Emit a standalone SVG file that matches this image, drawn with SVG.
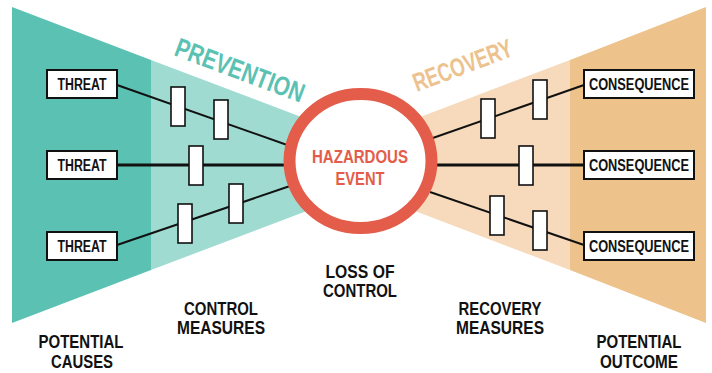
<svg xmlns="http://www.w3.org/2000/svg" width="712" height="373" viewBox="0 0 712 373">
<style>
text{font-family:"Liberation Sans Narrow","Liberation Sans",Arial,sans-serif;font-weight:bold}
.box{fill:#fff;stroke:#111;stroke-width:2}
.bar{fill:#fff;stroke:#111;stroke-width:1.6}
.lbl{font-size:16px;fill:#111;text-anchor:middle}
.cap{font-size:18px;fill:#111;text-anchor:middle}
.ln{stroke:#111;stroke-width:2;fill:none}
.lnh{stroke:#111;stroke-width:3;fill:none}
</style>
<rect width="712" height="373" fill="#fff"/>
<g id="background">
<polygon points="12,7 151,60 151,270 12,323" fill="#5bc2b3"/>
<polygon points="151,60 362,140 362,190 151,270" fill="#9fdbd1"/>
<polygon points="706,7 570,60 570,270 706,323" fill="#edc28b"/>
<polygon points="570,60 360,140 360,190 570,270" fill="#f6dabb"/>
<text x="173" y="55" transform="rotate(20.6 173 55)" font-size="27" fill="#5bc2b3" textLength="136" lengthAdjust="spacingAndGlyphs">PREVENTION</text>
<text x="417" y="92" transform="rotate(-20.6 417 92)" font-size="26" fill="#ecc28e" textLength="104" lengthAdjust="spacingAndGlyphs">RECOVERY</text>
</g>
<g id="connectors">
<line class="ln" x1="117" y1="85" x2="290" y2="146"/>
<line class="lnh" x1="117" y1="165" x2="290" y2="165"/>
<line class="ln" x1="117" y1="245" x2="290" y2="186"/>
<line class="ln" x1="584" y1="85" x2="430" y2="139"/>
<line class="lnh" x1="584" y1="165" x2="430" y2="165"/>
<line class="ln" x1="584" y1="245" x2="430" y2="192"/>
</g>
<g id="barriers">
<rect class="bar" x="171" y="87" width="14" height="39"/>
<rect class="bar" x="214" y="100" width="14" height="39"/>
<rect class="bar" x="189" y="146" width="14" height="39"/>
<rect class="bar" x="178" y="204" width="14" height="39"/>
<rect class="bar" x="229" y="184" width="14" height="39"/>
<rect class="bar" x="481" y="99" width="14" height="39"/>
<rect class="bar" x="533" y="80" width="14" height="39"/>
<rect class="bar" x="519" y="146" width="14" height="39"/>
<rect class="bar" x="490" y="196" width="14" height="39"/>
<rect class="bar" x="533" y="211" width="14" height="39"/>
</g>
<g id="threat1"><rect class="box" x="47" y="70" width="70" height="28"/><text class="lbl" x="82" y="90" textLength="49" lengthAdjust="spacingAndGlyphs">THREAT</text></g>
<g id="threat2"><rect class="box" x="47" y="151" width="70" height="28"/><text class="lbl" x="82" y="171" textLength="49" lengthAdjust="spacingAndGlyphs">THREAT</text></g>
<g id="threat3"><rect class="box" x="47" y="232" width="70" height="28"/><text class="lbl" x="82" y="252" textLength="49" lengthAdjust="spacingAndGlyphs">THREAT</text></g>
<g id="consequence1"><rect class="box" x="584" y="70" width="110" height="28"/><text class="lbl" transform="translate(639 90) scale(0.8 1)">CONSEQUENCE</text></g>
<g id="consequence2"><rect class="box" x="584" y="151" width="110" height="28"/><text class="lbl" transform="translate(639 171) scale(0.8 1)">CONSEQUENCE</text></g>
<g id="consequence3"><rect class="box" x="584" y="232" width="110" height="28"/><text class="lbl" transform="translate(639 252) scale(0.8 1)">CONSEQUENCE</text></g>
<g id="hazardous-event">
<ellipse cx="360.5" cy="161" rx="71" ry="67" fill="#fff" stroke="#e35d4a" stroke-width="12"/>
<text x="360" y="163" font-size="19" fill="#e35d4a" text-anchor="middle" textLength="96" lengthAdjust="spacingAndGlyphs">HAZARDOUS</text>
<text x="360" y="185" font-size="19" fill="#e35d4a" text-anchor="middle" textLength="49" lengthAdjust="spacingAndGlyphs">EVENT</text>
</g>
<g id="labels">
<text class="cap" x="360" y="278" textLength="69" lengthAdjust="spacingAndGlyphs">LOSS OF</text>
<text class="cap" x="360" y="297" textLength="74" lengthAdjust="spacingAndGlyphs">CONTROL</text>
<text class="cap" x="221" y="315" textLength="74" lengthAdjust="spacingAndGlyphs">CONTROL</text>
<text class="cap" x="221" y="334" textLength="88" lengthAdjust="spacingAndGlyphs">MEASURES</text>
<text class="cap" x="81" y="348" textLength="85" lengthAdjust="spacingAndGlyphs">POTENTIAL</text>
<text class="cap" x="82" y="368" textLength="62" lengthAdjust="spacingAndGlyphs">CAUSES</text>
<text class="cap" x="500" y="315" textLength="83" lengthAdjust="spacingAndGlyphs">RECOVERY</text>
<text class="cap" x="500" y="334" textLength="88" lengthAdjust="spacingAndGlyphs">MEASURES</text>
<text class="cap" x="639" y="348" textLength="85" lengthAdjust="spacingAndGlyphs">POTENTIAL</text>
<text class="cap" x="639" y="368" textLength="78" lengthAdjust="spacingAndGlyphs">OUTCOME</text>
</g>
</svg>
